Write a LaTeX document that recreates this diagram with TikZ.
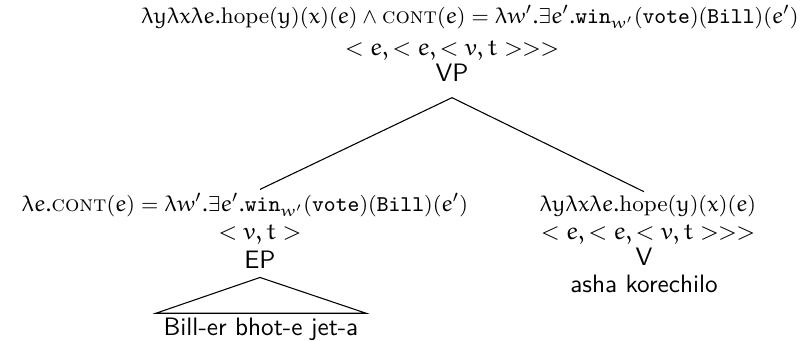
\documentclass[tikz,border=0pt]{standalone}
\DeclareSymbolFont{letters}{U}{eur}{m}{n}
\SetSymbolFont{letters}{bold}{U}{eur}{b}{n}
\begin{document}
\begin{tikzpicture}[x=0.41667pt,y=-0.41667pt,
  semline/.style={anchor=base, inner sep=1.5pt, font=\fontsize{9.4pt}{11pt}\selectfont},
  mathline/.style={anchor=base, inner sep=1.5pt},
  cat/.style={anchor=base, font=\fontsize{10.5pt}{12pt}\sffamily, inner sep=3.33pt},
  word/.style={anchor=base, font=\fontsize{10.5pt}{12pt}\sffamily},
  branch/.style={draw=black, line width=0.45pt}]
\useasboundingbox (0,0) rectangle (807,341);
% top node
\node[semline] (vpsem) at (470,24) {$\lambda y\lambda x\lambda e.\textrm{hope}(y)(x)(e)\wedge\textsc{cont}(e)=\lambda w'.\exists e'.\texttt{win}_{w'}(\texttt{vote})(\texttt{Bill})(e')$};
\node[mathline] (vptype) at (452,56) {$<e,<e,<v,t>>>$};
\node[cat] (vp) at (452,82) {VP};
% left daughter
\node[semline] (epsem) at (245,212) {$\lambda e.\textsc{cont}(e)=\lambda w'.\exists e'.\texttt{win}_{w'}(\texttt{vote})(\texttt{Bill})(e')$};
\node[mathline] (eptype) at (260,240) {$<v,t>$};
\node[cat] (ep) at (260,269) {EP};
\node[word, inner xsep=3pt, inner ysep=2pt] (epwords) at (261,336) {Bill-er bhot-e jet-a};
% right daughter
\node[semline] (vsem) at (648,212) {$\lambda y\lambda x\lambda e.\textrm{hope}(y)(x)(e)$};
\node[mathline] (vtype) at (648,240) {$<e,<e,<v,t>>>$};
\node[cat] (v) at (644,266) {V};
\node[word] (vwords) at (644,293) {asha korechilo};
% branches
\draw[branch] ([yshift=-3pt]vp.south) -- (epsem.north -| ep.center);
\draw[branch] ([yshift=-3pt]vp.south) -- (vsem.north -| v.center);
\draw[branch] (ep.south) -- (epwords.north west) -- (epwords.north east) -- cycle;
\end{tikzpicture}
\end{document}
